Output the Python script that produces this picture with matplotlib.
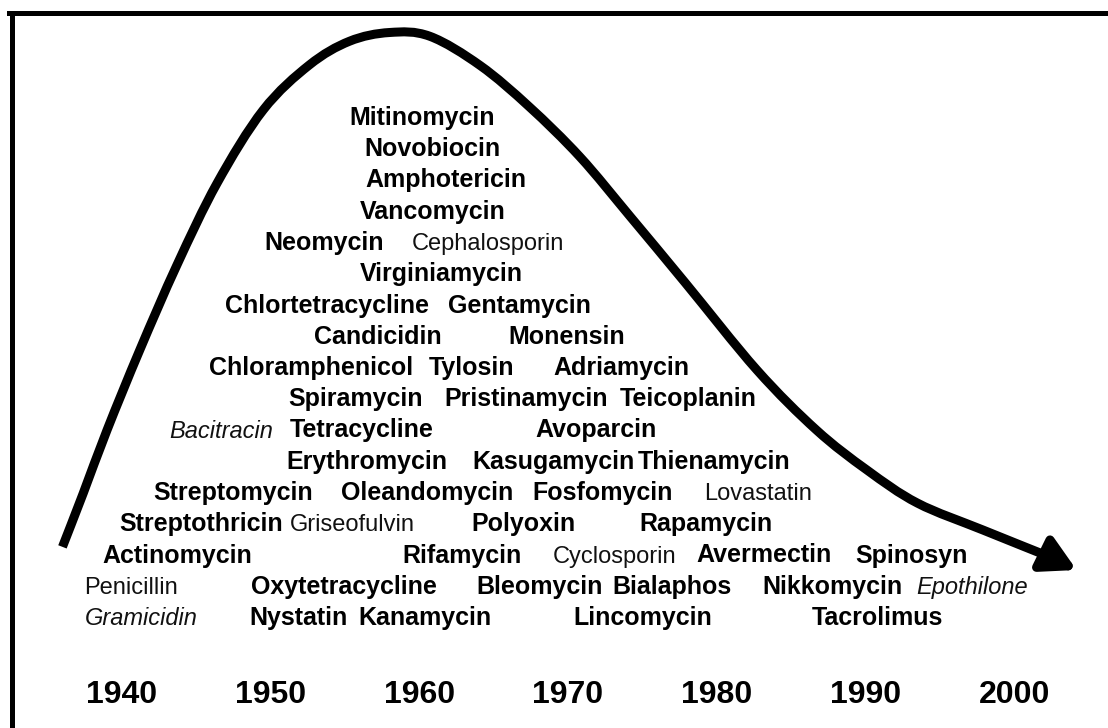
import matplotlib.pyplot as plt
from matplotlib.lines import Line2D
from matplotlib.path import Path
from matplotlib.patches import PathPatch

plt.rcParams['font.family'] = ['Liberation Sans', 'DejaVu Sans']

# antibiotic names, the year they sit over, their row (0 = top) and style
names = ['Mitinomycin', 'Novobiocin', 'Amphotericin', 'Vancomycin',
         'Neomycin', 'Cephalosporin', 'Virginiamycin',
         'Chlortetracycline', 'Gentamycin', 'Candicidin', 'Monensin',
         'Chloramphenicol', 'Tylosin', 'Adriamycin',
         'Spiramycin', 'Pristinamycin', 'Teicoplanin',
         'Bacitracin', 'Tetracycline', 'Avoparcin',
         'Erythromycin', 'Kasugamycin', 'Thienamycin',
         'Streptomycin', 'Oleandomycin', 'Fosfomycin', 'Lovastatin',
         'Streptothricin', 'Griseofulvin', 'Polyoxin', 'Rapamycin',
         'Actinomycin', 'Rifamycin', 'Cyclosporin', 'Avermectin', 'Spinosyn',
         'Penicillin', 'Oxytetracycline', 'Bleomycin', 'Bialaphos',
         'Nikkomycin', 'Epothilone',
         'Gramicidin', 'Nystatin', 'Kanamycin', 'Lincomycin', 'Tacrolimus']
name_year = [1960.2, 1960.9, 1961.8, 1960.9,
             1953.6, 1964.6, 1961.5,
             1953.8, 1966.7, 1957.2, 1969.9,
             1952.7, 1963.5, 1973.6,
             1955.7, 1967.2, 1978.1,
             1946.7, 1956.1, 1971.9,
             1956.5, 1969.0, 1979.8,
             1947.5, 1960.5, 1972.3, 1982.8,
             1945.3, 1955.5, 1967.0, 1979.3,
             1943.7, 1962.9, 1973.1, 1983.2, 1993.1,
             1940.6, 1954.9, 1968.1, 1977.0, 1987.8, 1997.2,
             1941.3, 1951.9, 1960.4, 1975.0, 1990.8]
name_row = [0, 1, 2, 3,
            4, 4, 5,
            6, 6, 7, 7,
            8, 8, 8,
            9, 9, 9,
            10, 10, 10,
            11, 11, 11,
            12, 12, 12, 12,
            13, 13, 13, 13,
            14, 14, 14, 14, 14,
            15, 15, 15, 15, 15, 15,
            16, 16, 16, 16, 16]
# b = bold, r = regular, i = italic
name_style = ['b', 'b', 'b', 'b',
              'b', 'r', 'b',
              'b', 'b', 'b', 'b',
              'b', 'b', 'b',
              'b', 'b', 'b',
              'i', 'b', 'b',
              'b', 'b', 'b',
              'b', 'b', 'b', 'r',
              'b', 'r', 'b', 'b',
              'b', 'b', 'r', 'b', 'b',
              'r', 'b', 'b', 'b', 'b', 'i',
              'i', 'b', 'b', 'b', 'b']

decades = [1940, 1950, 1960, 1970, 1980, 1990, 2000]
decade_row = 18.5

# rise and fall of discovery, same units (row, 0 = top)
curve_year = [1936.0, 1937.4, 1939.0, 1941.2, 1943.7, 1946.4, 1949.5,
              1952.6, 1955.3, 1958.0, 1960.7, 1964.1, 1967.4, 1970.8,
              1974.2, 1977.9, 1982.7, 1986.7, 1990.1, 1993.5,
              1997.9, 2002.4, 2004.2]
curve_row = [13.50, 11.78, 9.76, 7.20, 4.48, 1.86, -0.48,
             -1.92, -2.68, -2.96, -2.84, -1.90, -0.58, 1.02,
             2.94, 5.06, 7.84, 9.76, 11.04, 12.10,
             12.96, 13.82, 14.24]

fig = plt.figure(figsize=(11.08, 7.28), dpi=100)
ax = fig.add_axes([0, 0, 1, 1])
ax.set_xlim(1931.8, 2006.31)
ax.set_ylim(19.296, -4.0)
ax.axis('off')

# smooth line through the read points (Catmull-Rom as cubic Bezier)
pts = list(zip(curve_year[:-1], curve_row[:-1]))
verts = [pts[0]]
codes = [Path.MOVETO]
for i in range(len(pts) - 1):
    p0 = pts[i - 1] if i > 0 else pts[i]
    p1 = pts[i]
    p2 = pts[i + 1]
    p3 = pts[i + 2] if i + 2 < len(pts) else pts[i + 1]
    c1 = (p1[0] + (p2[0] - p0[0]) / 6, p1[1] + (p2[1] - p0[1]) / 6)
    c2 = (p2[0] - (p3[0] - p1[0]) / 6, p2[1] - (p3[1] - p1[1]) / 6)
    verts += [c1, c2, p2]
    codes += [Path.CURVE4] * 3
ax.add_patch(PathPatch(Path(verts, codes), facecolor='none',
                       edgecolor='black', lw=6.5, capstyle='butt',
                       joinstyle='round'))
ax.annotate('', xy=(curve_year[-1], curve_row[-1]),
            xytext=(curve_year[-2], curve_row[-2]),
            arrowprops=dict(arrowstyle='-|>,head_length=1.0,head_width=0.55',
                            color='black', lw=6.5, mutation_scale=20,
                            shrinkA=0, shrinkB=0))

for n, yr, r, s in zip(names, name_year, name_row, name_style):
    if s == 'b':
        ax.text(yr, r, n, ha='center', va='baseline', fontsize=18,
                fontweight='bold', color='black')
    elif s == 'i':
        ax.text(yr, r, n, ha='center', va='baseline', fontsize=17,
                fontstyle='italic', color='#111111')
    else:
        ax.text(yr, r, n, ha='center', va='baseline', fontsize=17,
                color='#111111')

for d in decades:
    ax.text(d, decade_row, str(d), ha='center', va='baseline', fontsize=23,
            fontweight='bold', color='black')

# frame: left and top edges only
fig.add_artist(Line2D([11.5 / 1108, 11.5 / 1108], [0, 1 - 12.5 / 728],
                      color='black', lw=3.6, transform=fig.transFigure))
fig.add_artist(Line2D([9 / 1108, 1], [1 - 12.5 / 728, 1 - 12.5 / 728],
                      color='black', lw=3.6, transform=fig.transFigure))

fig.savefig('out.png', dpi=100)
